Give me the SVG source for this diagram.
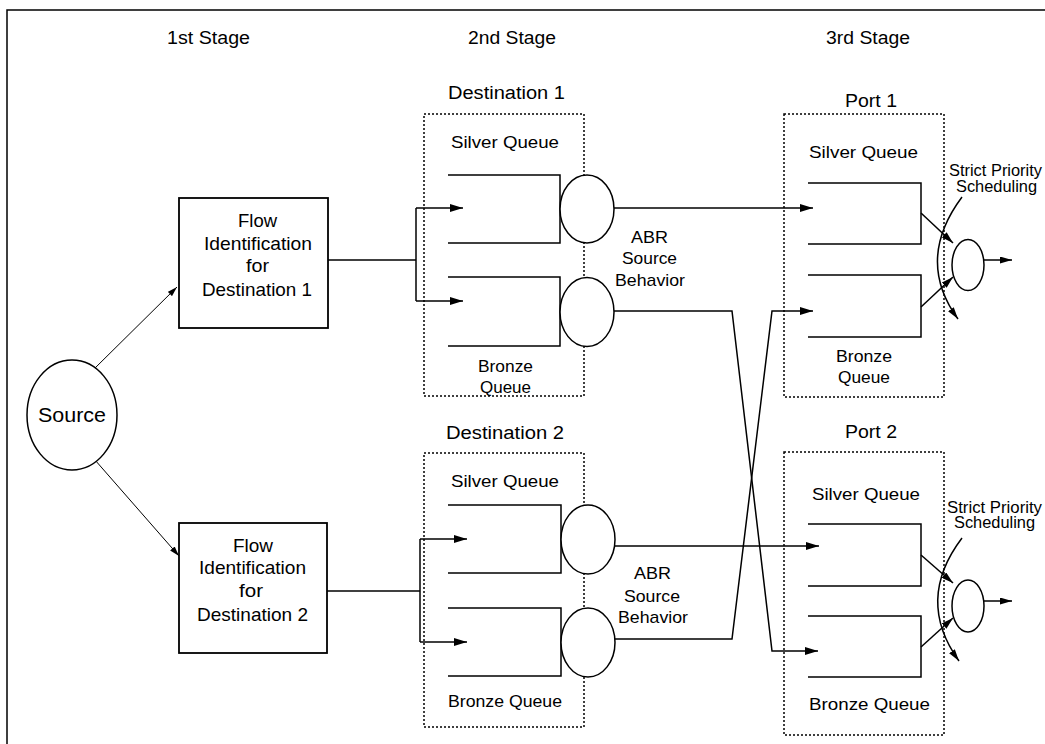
<svg xmlns="http://www.w3.org/2000/svg" width="1045" height="744" viewBox="0 0 1045 744">
<defs>
<style>
text{font-family:"Liberation Sans",Arial,Helvetica,sans-serif;fill:#000}
.st{font-size:17.5px}
.lb{font-size:18px}
.q{font-size:17px}
.sp{font-size:16px}
.fl{font-size:18.5px}
.ln{fill:none;stroke:#000;stroke-width:1.5}
.thin{fill:none;stroke:#000;stroke-width:1}
.dot{fill:none;stroke:#000;stroke-width:1.5;stroke-dasharray:2 2}
.box{fill:#fff;stroke:#000;stroke-width:1.8}
.circ{fill:#fff;stroke:#000;stroke-width:1.5}
</style>
<marker id="ah" viewBox="0 0 13 8" refX="13" refY="4" markerWidth="13" markerHeight="8" markerUnits="userSpaceOnUse" orient="auto"><path d="M0,0 L13,4 L0,8 z" fill="#000"/></marker>
<marker id="ahs" viewBox="0 0 10 6" refX="10" refY="3" markerWidth="10" markerHeight="6" markerUnits="userSpaceOnUse" orient="auto"><path d="M0,0 L10,3 L0,6 z" fill="#000"/></marker>
<marker id="ahm" viewBox="0 0 12 7" refX="12" refY="3.5" markerWidth="12" markerHeight="7" markerUnits="userSpaceOnUse" orient="auto"><path d="M0,0 L12,3.5 L0,7 z" fill="#000"/></marker>
</defs>
<rect x="0" y="0" width="1045" height="744" fill="#fff"/>
<path class="ln" d="M7,744 V10 H1045"/>

<g id="stage-labels">
<text class="st" x="167" y="44" textLength="83" lengthAdjust="spacingAndGlyphs">1st Stage</text>
<text class="st" x="468" y="44" textLength="88" lengthAdjust="spacingAndGlyphs">2nd Stage</text>
<text class="st" x="826" y="44" textLength="84" lengthAdjust="spacingAndGlyphs">3rd Stage</text>
</g>

<g id="connectors">
<path class="thin" d="M92,371 L177,287" marker-end="url(#ahs)"/>
<path class="thin" d="M95,460 L179,556" marker-end="url(#ahs)"/>
<path class="ln" d="M328,260 H416"/>
<path class="ln" d="M416,208 V301"/>
<path class="ln" d="M416,208 H463" marker-end="url(#ah)"/>
<path class="ln" d="M416,301 H463" marker-end="url(#ah)"/>
<path class="ln" d="M327,591 H420"/>
<path class="ln" d="M420,539 V642"/>
<path class="ln" d="M420,539 H467" marker-end="url(#ah)"/>
<path class="ln" d="M420,642 H467" marker-end="url(#ah)"/>
<path class="ln" d="M614,208 H813" marker-end="url(#ah)"/>
<path class="ln" d="M614,311 H732 L772,651 H818" marker-end="url(#ah)"/>
<path class="ln" d="M615,546 H819" marker-end="url(#ah)"/>
<path class="ln" d="M615,639 H732 L772,311 H813" marker-end="url(#ah)"/>
</g>

<g id="source">
<ellipse class="circ" cx="72" cy="415" rx="45" ry="55"/>
<text x="38" y="422" font-size="20.5" textLength="68" lengthAdjust="spacingAndGlyphs">Source</text>
</g>

<g id="flow1">
<rect class="box" x="179" y="198" width="149" height="130"/>
<text class="fl" x="238" y="227" textLength="39" lengthAdjust="spacingAndGlyphs">Flow</text>
<text class="fl" x="204" y="250" textLength="108" lengthAdjust="spacingAndGlyphs">Identification</text>
<text class="fl" x="246" y="272" textLength="23" lengthAdjust="spacingAndGlyphs">for</text>
<text class="fl" x="202" y="296" textLength="110" lengthAdjust="spacingAndGlyphs">Destination 1</text>
</g>

<g id="flow2">
<rect class="box" x="179" y="523" width="148" height="130"/>
<text class="fl" x="233" y="552" textLength="40" lengthAdjust="spacingAndGlyphs">Flow</text>
<text class="fl" x="199" y="574" textLength="107" lengthAdjust="spacingAndGlyphs">Identification</text>
<text class="fl" x="239" y="597" textLength="24" lengthAdjust="spacingAndGlyphs">for</text>
<text class="fl" x="197" y="621" textLength="111" lengthAdjust="spacingAndGlyphs">Destination 2</text>
</g>

<g id="dest1">
<text class="lb" x="448" y="99" textLength="117" lengthAdjust="spacingAndGlyphs">Destination 1</text>
<rect class="dot" x="424" y="114" width="160" height="282"/>
<text class="q" x="451" y="148" textLength="108" lengthAdjust="spacingAndGlyphs">Silver  Queue</text>
<path class="ln" d="M448,175 H560 V243 H448"/>
<ellipse class="circ" cx="587" cy="209" rx="27" ry="34"/>
<path class="ln" d="M448,277 H560 V346 H448"/>
<ellipse class="circ" cx="587" cy="312" rx="27" ry="34.5"/>
<text class="q" x="478" y="372" textLength="55" lengthAdjust="spacingAndGlyphs">Bronze</text>
<text class="q" x="480" y="393" textLength="51" lengthAdjust="spacingAndGlyphs">Queue</text>
</g>

<g id="abr1">
<text class="q" x="631" y="243" textLength="37" lengthAdjust="spacingAndGlyphs">ABR</text>
<text class="q" x="622" y="264" textLength="55" lengthAdjust="spacingAndGlyphs">Source</text>
<text class="q" x="615" y="286" textLength="70" lengthAdjust="spacingAndGlyphs">Behavior</text>
</g>

<g id="dest2">
<text class="lb" x="446" y="439" textLength="118" lengthAdjust="spacingAndGlyphs">Destination 2</text>
<rect class="dot" x="424" y="453" width="160" height="274"/>
<text class="q" x="451" y="487" textLength="108" lengthAdjust="spacingAndGlyphs">Silver  Queue</text>
<path class="ln" d="M448,505 H561 V573 H448"/>
<ellipse class="circ" cx="588" cy="539.5" rx="27" ry="34.5"/>
<path class="ln" d="M448,608 H561 V676 H448"/>
<ellipse class="circ" cx="588" cy="642.5" rx="27" ry="34.5"/>
<text class="q" x="448" y="707" textLength="114" lengthAdjust="spacingAndGlyphs">Bronze Queue</text>
</g>

<g id="abr2">
<text class="q" x="634" y="579" textLength="37" lengthAdjust="spacingAndGlyphs">ABR</text>
<text class="q" x="624" y="602" textLength="56" lengthAdjust="spacingAndGlyphs">Source</text>
<text class="q" x="618" y="623" textLength="70" lengthAdjust="spacingAndGlyphs">Behavior</text>
</g>

<g id="port1">
<text class="lb" x="845" y="107" textLength="52" lengthAdjust="spacingAndGlyphs">Port 1</text>
<rect class="dot" x="784" y="114" width="160" height="283"/>
<text class="q" x="809" y="158" textLength="109" lengthAdjust="spacingAndGlyphs">Silver  Queue</text>
<path class="ln" d="M808,183 H921 V244 H808"/>
<path class="ln" d="M808,275 H921 V337 H808"/>
<text class="q" x="836" y="362" textLength="56" lengthAdjust="spacingAndGlyphs">Bronze</text>
<text class="q" x="838" y="383" textLength="52" lengthAdjust="spacingAndGlyphs">Queue</text>
<ellipse class="circ" cx="968" cy="265" rx="16" ry="25.5"/>
<path class="ln" d="M921,213 L953,243" marker-end="url(#ahm)"/>
<path class="ln" d="M921,307 L953,277" marker-end="url(#ahm)"/>
<path class="ln" d="M984,260 H1012" marker-end="url(#ahm)"/>
<path class="ln" d="M962,197 Q915,260 958,319" marker-end="url(#ahm)"/>
<text class="sp" x="949" y="176" textLength="93" lengthAdjust="spacingAndGlyphs">Strict Priority</text>
<text class="sp" x="956" y="192" textLength="81" lengthAdjust="spacingAndGlyphs">Scheduling</text>
</g>

<g id="port2">
<text class="lb" x="845" y="438" textLength="52" lengthAdjust="spacingAndGlyphs">Port 2</text>
<rect class="dot" x="784" y="452" width="160" height="283"/>
<text class="q" x="812" y="500" textLength="108" lengthAdjust="spacingAndGlyphs">Silver  Queue</text>
<path class="ln" d="M808,524 H921 V586 H808"/>
<path class="ln" d="M808,616 H921 V677 H808"/>
<text class="q" x="809" y="710" textLength="121" lengthAdjust="spacingAndGlyphs">Bronze  Queue</text>
<ellipse class="circ" cx="968" cy="606" rx="16" ry="26"/>
<path class="ln" d="M921,555 L953,583" marker-end="url(#ahm)"/>
<path class="ln" d="M921,647 L953,618" marker-end="url(#ahm)"/>
<path class="ln" d="M984,601 H1012" marker-end="url(#ahm)"/>
<path class="ln" d="M962,538 Q915,600 959,661" marker-end="url(#ahm)"/>
<text class="sp" x="947" y="513" textLength="95" lengthAdjust="spacingAndGlyphs">Strict Priority</text>
<text class="sp" x="954" y="528" textLength="81" lengthAdjust="spacingAndGlyphs">Scheduling</text>
</g>
</svg>
